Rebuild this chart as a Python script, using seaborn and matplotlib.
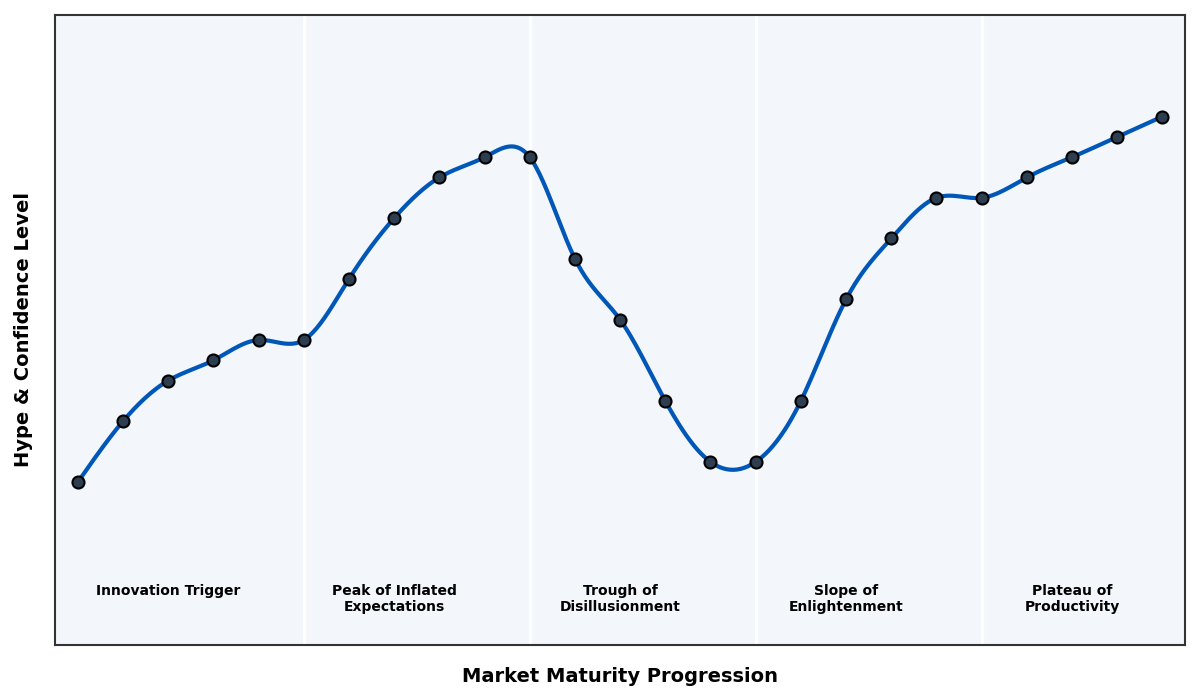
import numpy as np
import pandas as pd
import matplotlib
matplotlib.use('Agg')
import matplotlib.pyplot as plt
import seaborn as sns

# Data
stage_idx = list(range(25))
hype = [15, 30, 40, 45, 50, 50, 65, 80, 90, 95, 95, 70, 55, 35, 20,
        20, 35, 60, 75, 85, 85, 90, 95, 100, 105]
phase_names = ['Innovation Trigger', 'Peak of Inflated\nExpectations',
               'Trough of\nDisillusionment', 'Slope of\nEnlightenment',
               'Plateau of\nProductivity']
phase_centers = [2, 7, 12, 17, 22]
phase_bounds = [5, 10, 15, 20]


def natural_spline(x, y, n=600):
    # natural cubic spline, numpy only
    x = np.asarray(x, float)
    y = np.asarray(y, float)
    k = len(x)
    h = np.diff(x)
    A = np.zeros((k, k))
    b = np.zeros(k)
    A[0, 0] = A[-1, -1] = 1
    for i in range(1, k - 1):
        A[i, i - 1] = h[i - 1]
        A[i, i] = 2 * (h[i - 1] + h[i])
        A[i, i + 1] = h[i]
        b[i] = 3 * ((y[i + 1] - y[i]) / h[i] - (y[i] - y[i - 1]) / h[i - 1])
    c = np.linalg.solve(A, b)
    bb = (np.diff(y) / h) - h * (2 * c[:-1] + c[1:]) / 3
    d = np.diff(c) / (3 * h)
    xs = np.linspace(x[0], x[-1], n)
    j = np.clip(np.searchsorted(x, xs) - 1, 0, k - 2)
    t = xs - x[j]
    ys = y[j] + bb[j] * t + c[j] * t ** 2 + d[j] * t ** 3
    return xs, ys


sns.set_style('white')
plt.rcParams['font.family'] = ['DejaVu Sans']
plt.rcParams['text.color'] = 'black'
plt.rcParams['axes.labelcolor'] = 'black'

fig = plt.figure(figsize=(12, 7), dpi=100)
ax = fig.add_axes([0.046, 0.079, 0.9415, 0.8996])
ax.set_facecolor('#f3f6fa')

for xb in phase_bounds:
    ax.axvline(xb, color='white', lw=2.5, zorder=1)

xs, ys = natural_spline(stage_idx, hype)
smooth = pd.DataFrame({'x': xs, 'y': ys})
sns.lineplot(data=smooth, x='x', y='y', ax=ax, color='#0057b7', lw=3, zorder=2)

pts = pd.DataFrame({'x': stage_idx, 'y': hype})
sns.scatterplot(data=pts, x='x', y='y', ax=ax, s=75, color='#2c3e50',
                edgecolor='black', linewidth=1.5, zorder=3)

for xc, name in zip(phase_centers, phase_names):
    ax.text(xc, -10, name, ha='center', va='top', fontsize=10,
            fontweight='bold', multialignment='center', color='black')

ax.set_xlim(-0.5, 24.5)
ax.set_ylim(-25, 130)
ax.set_xticks([])
ax.set_yticks([])
ax.set_xlabel('Market Maturity Progression', fontsize=14, fontweight='bold', labelpad=16)
ax.set_ylabel('Hype & Confidence Level', fontsize=14, fontweight='bold', labelpad=16)

for sp in ax.spines.values():
    sp.set_color('#333333')
    sp.set_linewidth(1.5)

fig.savefig('out.png', dpi=100)
